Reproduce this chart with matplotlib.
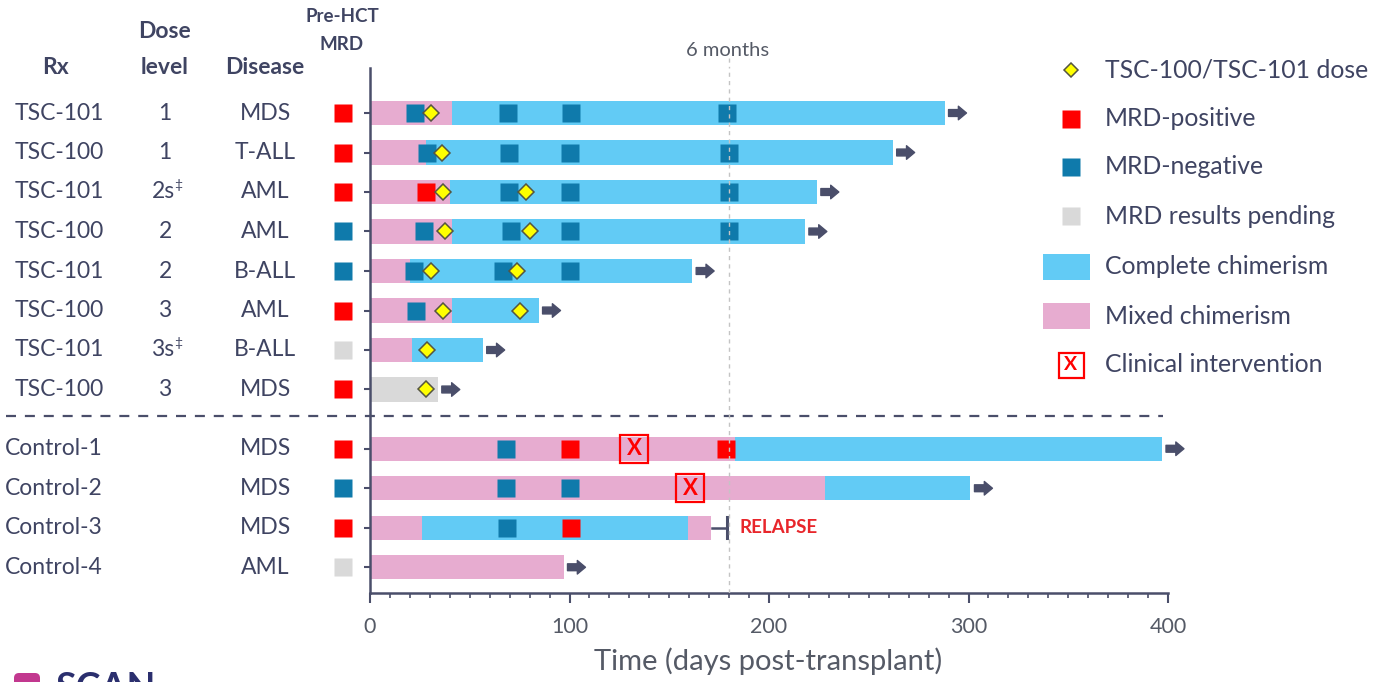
import matplotlib
matplotlib.use("Agg")
import matplotlib.pyplot as plt
import matplotlib.transforms as mtransforms
from matplotlib.patches import Rectangle, FancyBboxPatch

plt.rcParams["font.family"] = ["Lato", "DejaVu Sans"]

# ---- data ----
rx = ["TSC-101", "TSC-100", "TSC-101", "TSC-100", "TSC-101", "TSC-100",
      "TSC-101", "TSC-100", "Control-1", "Control-2", "Control-3", "Control-4"]
dose_level = ["1", "1", "2s", "2", "2", "3", "3s", "3", "", "", "", ""]
dose_mark = [False, False, True, False, False, False, True, False,
             False, False, False, False]
disease = ["MDS", "T-ALL", "AML", "AML", "B-ALL", "AML", "B-ALL", "MDS",
           "MDS", "MDS", "MDS", "AML"]
pre_hct_mrd = ["pos", "pos", "pos", "neg", "neg", "pos", "pend", "pos",
               "pos", "neg", "pos", "pend"]
row_y = [0, 1, 2, 3, 4, 5, 6, 7, 8.5, 9.5, 10.5, 11.5]

# chimerism segments per row: (state, start day, end day)
chimerism = [
    [("mixed", 0, 41), ("complete", 41, 288)],
    [("mixed", 0, 28), ("complete", 28, 262)],
    [("mixed", 0, 40), ("complete", 40, 224)],
    [("mixed", 0, 41), ("complete", 41, 218)],
    [("mixed", 0, 20), ("complete", 20, 161.5)],
    [("mixed", 0, 41), ("complete", 41, 84.5)],
    [("mixed", 0, 21), ("complete", 21, 56.5)],
    [("pending", 0, 34)],
    [("mixed", 0, 183), ("complete", 183, 397)],
    [("mixed", 0, 228), ("complete", 228, 301)],
    [("mixed", 0, 26), ("complete", 26, 159.5), ("mixed", 159.5, 171)],
    [("mixed", 0, 97)],
]
mrd_negative = [
    [22.5, 69, 101, 179], [28.5, 69.5, 100.5, 180], [69.5, 100.5, 180],
    [27, 70.5, 100.5, 180], [22, 66.5, 100.5], [23], [], [],
    [68], [68, 100.5], [68.5], [],
]
mrd_positive = [[], [], [28], [], [], [], [], [],
                [100.5, 178.5], [], [100.7], []]
tsc_dose = [[30.5], [36], [36.5, 78], [37.5, 80], [30.5, 73.5], [36.5, 75],
            [28.5], [28], [], [], [], []]
intervention = [[], [], [], [], [], [], [], [], [132.5], [160.5], [], []]
ongoing = [True] * 10 + [False, True]
relapse_row = 10
relapse_day = 179

legend_labels = ["TSC-100/TSC-101 dose", "MRD-positive", "MRD-negative",
                 "MRD results pending", "Complete chimerism",
                 "Mixed chimerism", "Clinical intervention"]

# ---- styling ----
TEXT = "#3f4462"
SLATE = "#4a4e6a"
PINK = "#e7acd0"
BLUE = "#62cbf5"
TEAL = "#0f7aab"
RED = "#ff0000"
GRAY = "#d9d9d9"
YELLOW = "#ffff00"
state_color = {"mixed": PINK, "complete": BLUE, "pending": GRAY,
               "pos": RED, "neg": TEAL, "pend": GRAY}

W, H = 1383, 682
fig = plt.figure(figsize=(W / 100, H / 100), dpi=100)
ax = fig.add_axes([370 / W, 1 - 593 / H, 798 / W, (593 - 68) / H])
ax.set_xlim(0, 400)
ax.set_ylim((593 - 113) / 39.5, (68 - 113) / 39.5)

# overlay in pixel coordinates for headers / legend
lax = fig.add_axes([0, 0, 1, 1], zorder=-1)
lax.set_xlim(0, W)
lax.set_ylim(H, 0)
lax.axis("off")
rowtr = mtransforms.blended_transform_factory(lax.transData, ax.transData)

BAR_H = 0.62
SQ = 13.5
FS = 16.5
for i, y in enumerate(row_y):
    for state, start, end in chimerism[i]:
        ax.barh(y, end - start, left=start, height=BAR_H,
                color=state_color[state], zorder=2)
    for d in mrd_negative[i]:
        ax.plot(d, y, "s", ms=SQ, mfc=TEAL, mec="none", zorder=4)
    for d in mrd_positive[i]:
        ax.plot(d, y, "s", ms=SQ, mfc=RED, mec="none", zorder=4)
    for d in tsc_dose[i]:
        ax.plot(d, y, "D", ms=7.8, mfc=YELLOW, mec="#555540", mew=1.1,
                zorder=6)
    for d in intervention[i]:
        ax.plot(d, y, "s", ms=20, mfc="none", mec=RED, mew=1.6, zorder=6)
        ax.text(d, y, "X", color=RED, fontsize=16, fontweight="bold",
                ha="center", va="center", zorder=7)
    end = chimerism[i][-1][2]
    if ongoing[i]:
        ax.annotate("", xy=(end + 11, y), xytext=(end + 2, y),
                    annotation_clip=False,
                    arrowprops=dict(arrowstyle="simple,head_length=0.45,"
                                    "head_width=0.75,tail_width=0.38",
                                    color=SLATE, mutation_scale=13,
                                    shrinkA=0, shrinkB=0))
    # pre-HCT MRD square left of the axis
    ax.plot(-13.5, y, "s", ms=SQ, mfc=state_color[pre_hct_mrd[i]],
            mec="none", clip_on=False, zorder=4)

    # row labels
    if rx[i].startswith("Control"):
        lax.text(5, y, rx[i], transform=rowtr, ha="left", va="center",
                 fontsize=FS, color=TEXT)
    else:
        lax.text(59, y, rx[i], transform=rowtr, ha="center", va="center",
                 fontsize=FS, color=TEXT)
    if dose_level[i]:
        lax.text(163 if dose_mark[i] else 165, y, dose_level[i],
                 transform=rowtr, ha="center", va="center", fontsize=FS,
                 color=TEXT)
        if dose_mark[i]:
            lax.text(174, y - 0.18, "\u2021", transform=rowtr, ha="left",
                     va="center", fontsize=10, color=TEXT)
    lax.text(265, y, disease[i], transform=rowtr, ha="center", va="center",
             fontsize=FS, color=TEXT)

# relapse marker
r_end = chimerism[relapse_row][-1][2]
ry = row_y[relapse_row]
ax.plot([r_end + 0.5, relapse_day], [ry, ry], color=SLATE, lw=1.8, zorder=3)
ax.plot([relapse_day, relapse_day], [ry - 0.27, ry + 0.27], color=SLATE,
        lw=2.2, zorder=3)
ax.text(relapse_day + 6, ry, "RELAPSE", color="#e8262b", fontsize=13.5,
        fontweight="bold", ha="left", va="center")

# 6-month reference line and separator
ax.axvline(180, color="#c4c4c4", ls=(0, (3, 3)), lw=1, zorder=8)
lax.plot([729, 729], [58, 68], color="#c4c4c4", ls=(0, (3, 3)), lw=1)
lax.text(728, 50, "6 months", ha="center", va="center", fontsize=14.5,
         color="#555a66")
ax.plot([-182.5, 397.5], [7.68, 7.68], color=SLATE, lw=1.6,
        ls=(0, (4.5, 4)), clip_on=False, zorder=3)

# axes styling
for side in ("top", "right"):
    ax.spines[side].set_visible(False)
for side in ("left", "bottom"):
    ax.spines[side].set_color(SLATE)
    ax.spines[side].set_linewidth(1.8)
ax.set_yticks(row_y)
ax.set_yticklabels([])
ax.tick_params(axis="y", length=4.5, width=1.5, color=SLATE, direction="out")
ax.set_xticks([0, 100, 200, 300, 400])
ax.set_xticks(range(0, 401, 10), minor=True)
ax.tick_params(axis="x", which="major", length=7, width=1.5, color=SLATE,
               labelsize=15.5, labelcolor="#555a66", pad=10)
ax.tick_params(axis="x", which="minor", length=3.5, width=1.2, color=SLATE)
ax.set_facecolor("none")
lax.text(768, 661, "Time (days post-transplant)", ha="center", va="center",
         fontsize=21, color="#555a66")

# column headers
hdr = dict(ha="center", va="center", color=TEXT, fontweight="bold")
lax.text(56, 67, "Rx", fontsize=FS, **hdr)
lax.text(165, 32, "Dose", fontsize=FS, **hdr)
lax.text(165, 67, "level", fontsize=FS, **hdr)
lax.text(265, 67, "Disease", fontsize=FS, **hdr)
lax.text(342, 17, "Pre-HCT", fontsize=13.5, **hdr)
lax.text(342, 44, "MRD", fontsize=13.5, **hdr)

# legend
leg_y = [70, 119, 167, 216, 267, 316, 365]
lx = 1071
lax.plot(lx, leg_y[0], "D", ms=7.2, mfc=YELLOW, mec="#555540", mew=1.1)
lax.plot(lx, leg_y[1], "s", ms=13, mfc=RED, mec="none")
lax.plot(lx, leg_y[2], "s", ms=13, mfc=TEAL, mec="none")
lax.plot(lx, leg_y[3], "s", ms=13, mfc=GRAY, mec="none")
lax.add_patch(Rectangle((1043, leg_y[4] - 13), 47, 26, color=BLUE, lw=0))
lax.add_patch(Rectangle((1043, leg_y[5] - 13), 47, 26, color=PINK, lw=0))
lax.plot(lx, leg_y[6], "s", ms=18, mfc="none", mec=RED, mew=1.6)
lax.text(lx, leg_y[6], "X", color=RED, fontsize=14, fontweight="bold",
         ha="center", va="center")
for yy, lab in zip(leg_y, legend_labels):
    lax.text(1105, yy, lab, ha="left", va="center", fontsize=17.8,
             color=TEXT)

# cropped logo at the bottom-left corner
lax.add_patch(FancyBboxPatch((14, 673), 26, 20,
                             boxstyle="round,pad=0,rounding_size=5",
                             fc="#c2388f", ec="none"))
lax.text(55, 672, "SCAN", ha="left", va="top", fontsize=27,
         fontweight="bold", color="#2b2f6e", clip_on=True)

fig.savefig("out.png", dpi=100)
